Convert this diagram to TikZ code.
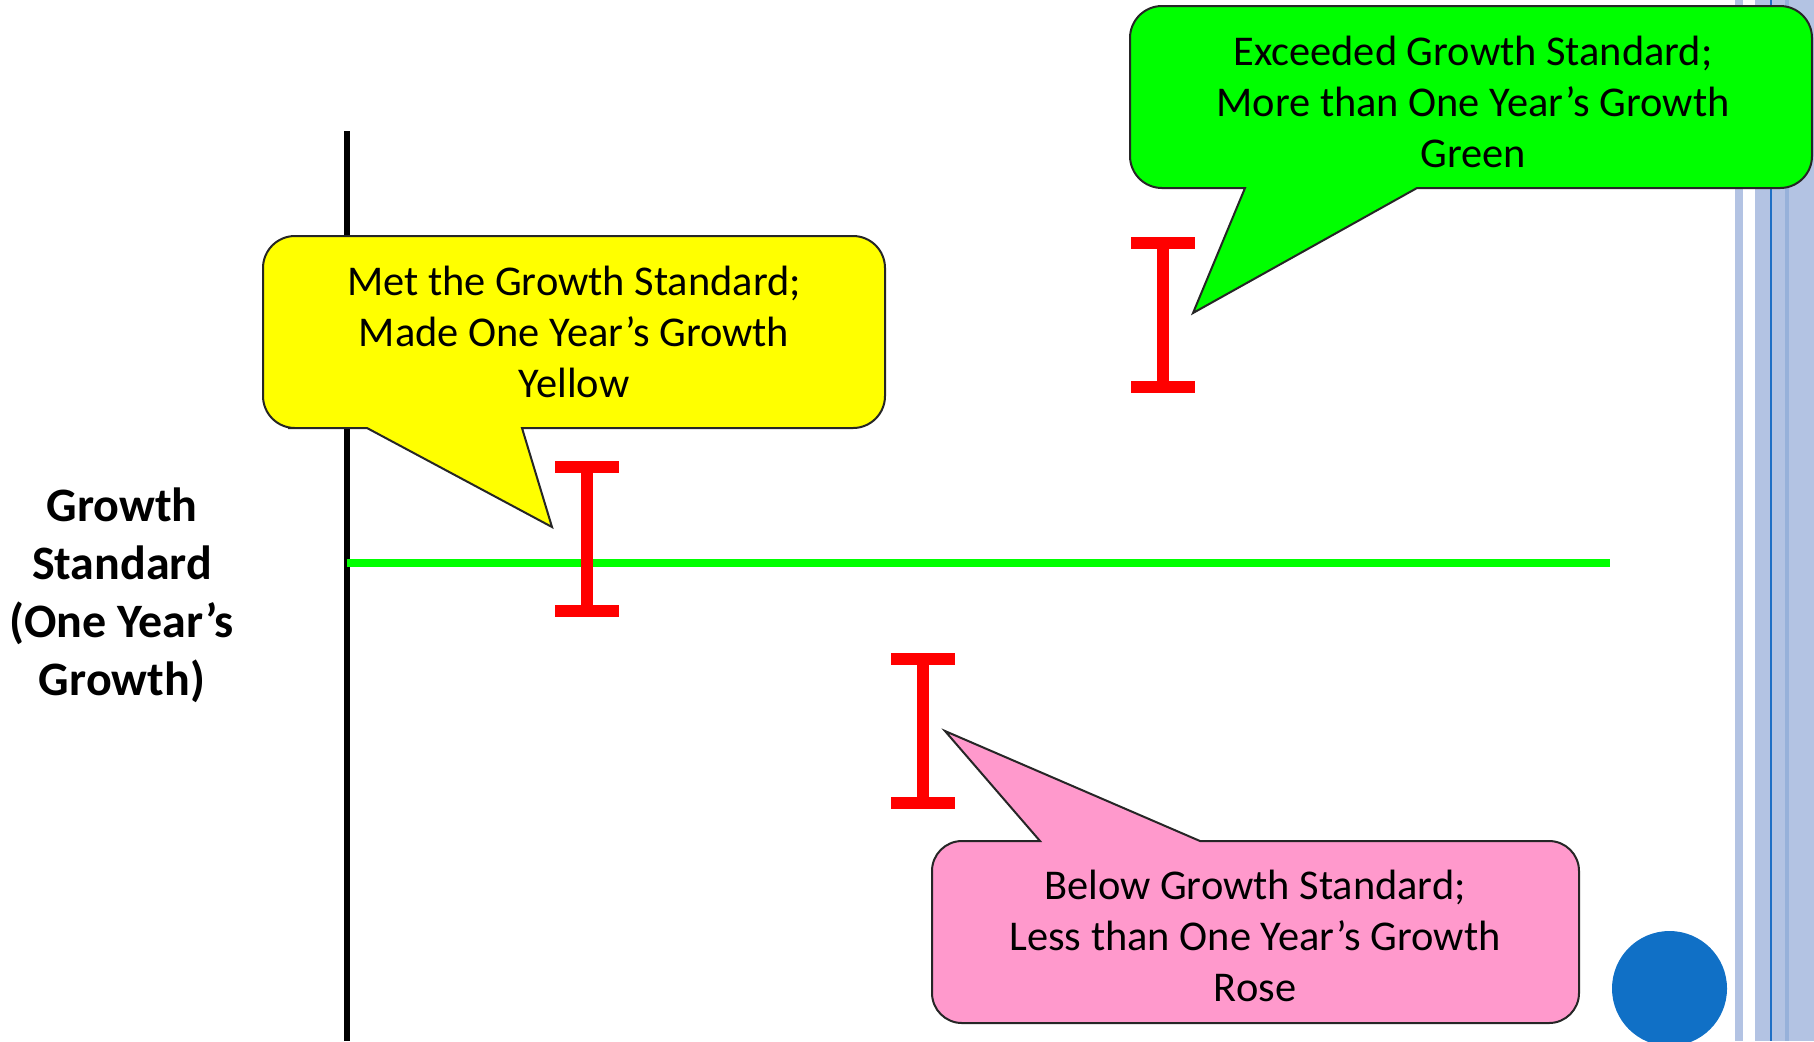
\documentclass[tikz,border=0pt]{standalone}
\usepackage{fontspec}
\setmainfont{Carlito}
\definecolor{cgreen}{HTML}{00FF00}
\definecolor{cyellow}{HTML}{FFFF00}
\definecolor{cpink}{HTML}{FF99CC}
\definecolor{cred}{HTML}{FF0000}
\definecolor{cblue}{HTML}{1070C6}
\definecolor{stripelight}{HTML}{B3C3E3}
\definecolor{stripedark}{HTML}{1F6FC5}
\definecolor{stripemid}{HTML}{97B1DA}
\begin{document}
\begin{tikzpicture}[x=0.5pt,y=-0.5pt,
  callout/.style={draw=black!85,line width=1pt,line join=miter},
  calltext/.style={align=center,font=\fontsize{21.2}{25.5}\selectfont,inner sep=0pt},
  ibar/.style={fill=cred,draw=none}]
\useasboundingbox (0,0) rectangle (1814,1041);
\fill[white] (0,0) rectangle (1814,1041);
% stripes on the right
\fill[stripelight] (1735,0) rectangle (1743,1041);
\fill[stripelight] (1755,0) rectangle (1814,1041);
\fill[stripedark] (1770,0) rectangle (1772,1041);
\fill[stripemid] (1785,0) rectangle (1789,1041);
% axes
\coordinate (vtop) at (347,131);
\coordinate (vbot) at (347,1041);
\draw[line width=3pt,black] (vtop) -- (vbot);
\coordinate (gl) at (347,563);
\coordinate (gr) at (1610,563);
\draw[line width=4pt,cgreen] (gl) -- (gr);
% I-bars
\foreach \cx/\ty/\nm in {587/461/ia,1163/237/ib,923/653/ic}{
  \fill[ibar] (\cx-32,\ty) rectangle (\cx+32,\ty+12);
  \fill[ibar] (\cx-6,\ty) rectangle (\cx+6,\ty+156);
  \fill[ibar] (\cx-32,\ty+144) rectangle (\cx+32,\ty+156);
}
% yellow callout
\draw[callout,fill=cyellow] (367,428) -- (552,527) -- (522,428) -- (560,428)
  [rounded corners=16pt] -- (885,428) -- (885,236) -- (263,236) -- (263,428) -- (320,428)
  [sharp corners] -- cycle;
\node[calltext] (ytext) at (574,332) {Met the Growth Standard;\\Made One Year’s Growth\\Yellow};
% green callout
\draw[callout,fill=cgreen] (1245,188) -- (1193,313) -- (1417,188) -- (1450,188)
  [rounded corners=16pt] -- (1812,188) -- (1812,6) -- (1130,6) -- (1130,188) -- (1200,188)
  [sharp corners] -- cycle;
\node[calltext] (gtext) at (1473,102) {Exceeded Growth Standard;\\More than One Year’s Growth\\Green};
% pink callout
\draw[callout,fill=cpink] (1040,841) -- (945,731) -- (1200,841) -- (1250,841)
  [rounded corners=15pt] -- (1579,841) -- (1579,1023) -- (932,1023) -- (932,841) -- (1000,841)
  [sharp corners] -- cycle;
\node[calltext] (ptext) at (1255,936) {Below Growth Standard;\\Less than One Year’s Growth\\Rose};
% blue circle
\fill[cblue] (1669.5,988.5) circle[radius=28.75pt];
% left label
\node[align=center,font=\bfseries\fontsize{24}{29}\selectfont,inner sep=0pt] (label) at (122,595)
  {Growth\\Standard\\(One Year’s\\Growth)};
\end{tikzpicture}
\end{document}
